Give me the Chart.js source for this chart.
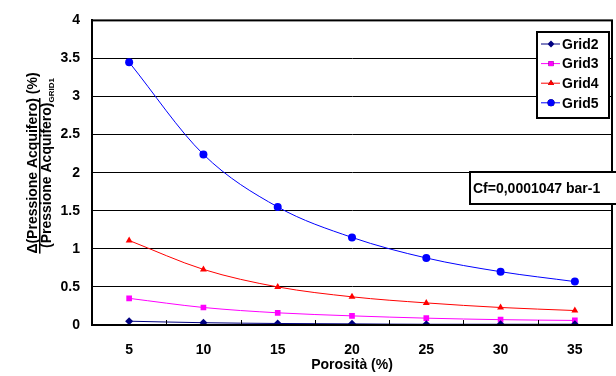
<!DOCTYPE html>
<html lang="it">
<head>
<meta charset="UTF-8">
<title>Pressione Acquifero</title>
<script src="https://cdn.jsdelivr.net/npm/chart.js"></script>
<style>
    body { margin: 0; background: #fff; }
    #wrap { width: 616px; height: 376px; }
</style>
</head>
<body>
<div id="wrap"><canvas id="c"></canvas></div>
<script>
// data
const porosita = ['5', '10', '15', '20', '25', '30', '35'];
const grid2 = [0.05, 0.03, 0.02, 0.015, 0.01, 0.01, 0.01];
const grid3 = [0.35, 0.23, 0.16, 0.12, 0.09, 0.07, 0.06];
const grid4 = [1.11, 0.73, 0.50, 0.37, 0.29, 0.23, 0.19];
const grid5 = [3.45, 2.24, 1.55, 1.15, 0.88, 0.70, 0.57];
const cfLabel = 'Cf=0,0001047 bar-1';

const FONT = 'Arial, "Liberation Sans", sans-serif';

function series(label, data, color, style) {
    return {
        label: label, data: data,
        borderColor: color, backgroundColor: color,
        borderWidth: 1, pointStyle: style,
        pointRadius: 4, pointBorderWidth: 0,
        cubicInterpolationMode: 'monotone'
    };
}

// axis titles, inner tick marks, frame, legend and Cf box
const decor = {
    id: 'decor',
    afterDatasetsDraw(chart) {
        const ctx = chart.ctx, a = chart.chartArea, xs = chart.scales.x;
        ctx.save();
        // tick marks pointing inside at category boundaries
        ctx.strokeStyle = '#000';
        ctx.lineWidth = 1;
        for (let i = 1; i < porosita.length; i++) {
            const x = Math.round((xs.getPixelForValue(i - 1) + xs.getPixelForValue(i)) / 2) + 0.5;
            ctx.beginPath();
            ctx.moveTo(x, a.bottom);
            ctx.lineTo(x, a.bottom - 5);
            ctx.stroke();
        }
        // frame
        ctx.lineWidth = 2;
        ctx.strokeRect(a.left, a.top, a.right - a.left, a.bottom - a.top);

        // x title
        ctx.fillStyle = '#000';
        ctx.font = 'bold 14px ' + FONT;
        ctx.textAlign = 'center';
        ctx.textBaseline = 'middle';
        ctx.fillText('Porosità (%)', (a.left + a.right) / 2, 365);

        // y title (two lines, rotated)
        ctx.save();
        ctx.translate(0, 163);
        ctx.rotate(-Math.PI / 2);
        ctx.textBaseline = 'alphabetic';
        ctx.textAlign = 'left';
        const l1a = 'Δ(Pressione Acquifero)', l1b = ' (%)';
        const w1a = ctx.measureText(l1a).width, w1b = ctx.measureText(l1b).width;
        let sx = -(w1a + w1b) / 2;
        ctx.fillText(l1a, sx, 37);
        ctx.fillText(l1b, sx + w1a, 37);
        ctx.fillRect(sx, 39, w1a, 1.5);
        const l2 = '(Pressione Acquifero)';
        ctx.font = 'bold 8px ' + FONT;
        const wSub = ctx.measureText('GRID1').width;
        ctx.font = 'bold 14px ' + FONT;
        const w2 = ctx.measureText(l2).width;
        sx = -(w2 + wSub) / 2;
        ctx.fillText(l2, sx, 51);
        ctx.font = 'bold 8px ' + FONT;
        ctx.fillText('GRID1', sx + w2, 54);
        ctx.restore();

        // legend
        const lx = 537, ly = 32, lw = 72, lh = 86;
        ctx.fillStyle = '#fff';
        ctx.fillRect(lx, ly, lw, lh);
        ctx.strokeStyle = '#000';
        ctx.lineWidth = 2;
        ctx.strokeRect(lx, ly, lw, lh);
        ctx.font = 'bold 14px ' + FONT;
        ctx.textAlign = 'left';
        ctx.textBaseline = 'middle';
        chart.data.datasets.forEach((ds, i) => {
            const y = 44 + i * 19.6;
            ctx.strokeStyle = ds.borderColor;
            ctx.lineWidth = 1;
            ctx.beginPath();
            ctx.moveTo(541, y);
            ctx.lineTo(560, y);
            ctx.stroke();
            Chart.helpers.drawPoint(ctx, { pointStyle: ds.pointStyle, radius: 3.5, rotation: 0, borderWidth: 0 }, 551, y);
            ctx.fillStyle = ds.backgroundColor;
            ctx.fill();
            ctx.fillStyle = '#000';
            ctx.fillText(ds.label, 562, y + 1);
        });

        // Cf box
        ctx.fillStyle = '#fff';
        ctx.fillRect(470, 172, 150, 32);
        ctx.strokeStyle = '#000';
        ctx.lineWidth = 2;
        ctx.strokeRect(470, 172, 150, 32);
        ctx.fillStyle = '#000';
        ctx.fillText(cfLabel, 473, 189);
        ctx.restore();
    }
};

new Chart(document.getElementById('c'), {
    type: 'line',
    data: {
        labels: porosita,
        datasets: [
            series('Grid2', grid2, '#000080', 'rectRot'),
            series('Grid3', grid3, '#ff00ff', 'rect'),
            series('Grid4', grid4, '#ff0000', 'triangle'),
            series('Grid5', grid5, '#0000ff', 'circle')
        ]
    },
    options: {
        responsive: true,
        maintainAspectRatio: false,
        animation: false,
        layout: { padding: { top: 16, right: 0, left: 0, bottom: 0 } },
        plugins: { legend: { display: false }, tooltip: { enabled: false } },
        scales: {
            x: {
                offset: true,
                grid: { display: false, drawTicks: false },
                border: { color: '#000', width: 2 },
                ticks: { color: '#000', font: { family: FONT, size: 14, weight: 'bold' }, padding: 17, maxRotation: 0 },
                afterFit(s) { s.height = 51; }
            },
            y: {
                min: 0, max: 4,
                grid: { color: '#000', lineWidth: 1, drawTicks: false },
                border: { color: '#000', width: 2 },
                ticks: {
                    stepSize: 0.5, color: '#000', font: { family: FONT, size: 14, weight: 'bold' }, padding: 12,
                    callback: v => String(v)
                },
                afterFit(s) { s.width = 92; }
            }
        }
    },
    plugins: [decor]
});
</script>
</body>
</html>
